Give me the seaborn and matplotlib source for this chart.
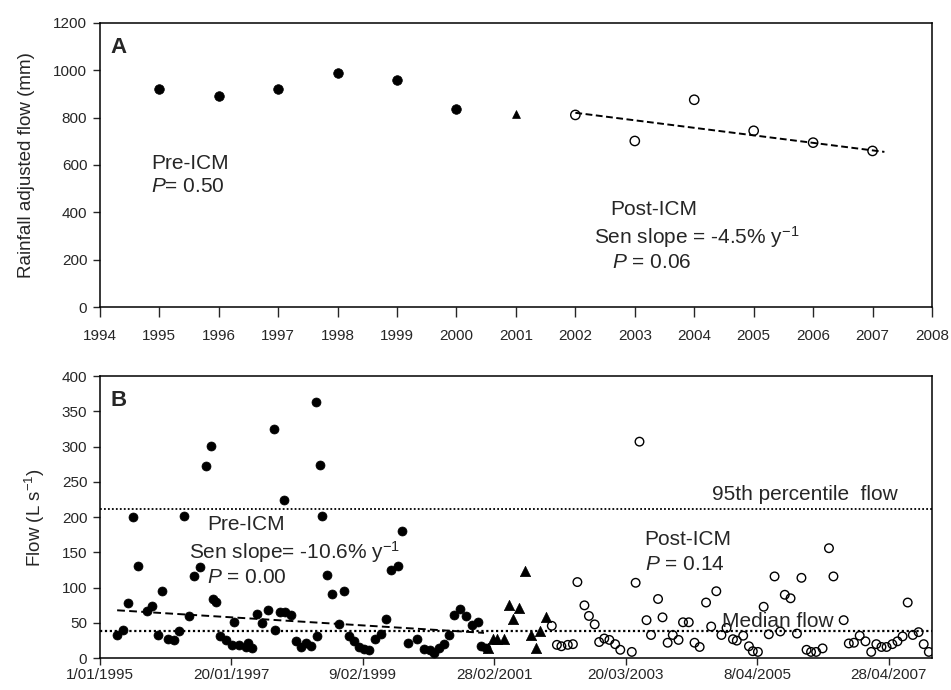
import numpy as np
import pandas as pd
import matplotlib
matplotlib.use("Agg")
import matplotlib.pyplot as plt
import seaborn as sns

# ---------------- Panel A data ----------------
a_pre_years = [1995, 1996, 1997, 1998, 1999, 2000]
a_pre_flow = [921, 892, 921, 990, 958, 838]
a_mid_years = [2001]
a_mid_flow = [814]
a_post_years = [2002, 2003, 2004, 2005, 2006, 2007]
a_post_flow = [811, 701, 875, 744, 694, 659]
a_trend_years = [2002.0, 2007.2]
a_trend_flow = [820, 655]

# ---------------- Panel B data (sampling time in decimal years) ----------------
b_pre_time = [1995.27, 1995.36, 1995.44, 1995.52, 1995.59, 1995.73, 1995.82, 1995.91, 1995.97,
              1996.06, 1996.16, 1996.24, 1996.31, 1996.40, 1996.47, 1996.57, 1996.66, 1996.74,
              1996.77, 1996.81, 1996.88, 1996.97, 1997.07, 1997.10, 1997.18, 1997.28, 1997.31,
              1997.38, 1997.46, 1997.54, 1997.62, 1997.72, 1997.74, 1997.81, 1997.87, 1997.89,
              1997.98, 1998.06, 1998.14, 1998.22, 1998.30, 1998.38, 1998.40, 1998.44, 1998.47,
              1998.55, 1998.62, 1998.74, 1998.82, 1998.89, 1998.97, 1999.05, 1999.13, 1999.21,
              1999.30, 1999.39, 1999.47, 1999.55, 1999.65, 1999.72, 1999.81, 1999.96, 2000.07,
              2000.15, 2000.22, 2000.30, 2000.38, 2000.46, 2000.54, 2000.63, 2000.72, 2000.81,
              2000.90, 2000.95, 2001.03]
b_pre_flow = [33, 40, 79, 200, 131, 67, 74, 33, 95,
              27, 26, 38, 201, 60, 117, 129, 272, 301,
              84, 80, 31, 26, 19, 52, 19, 16, 21,
              14, 63, 50, 68, 325, 40, 66, 224, 65,
              61, 24, 16, 22, 18, 363, 31, 274, 202,
              118, 91, 48, 95, 31, 24, 16, 13, 11,
              27, 34, 55, 125, 131, 180, 21, 27, 13,
              11, 8, 14, 20, 33, 61, 70, 60, 47,
              52, 17, 14]

b_mid_time = [2001.06, 2001.14, 2001.21, 2001.32, 2001.39, 2001.46, 2001.55, 2001.64,
              2001.74, 2001.81, 2001.88, 2001.97]
b_mid_flow = [14, 27, 28, 28, 76, 56, 71, 123, 33, 15, 38, 59]

b_post_time = [2002.06, 2002.14, 2002.21, 2002.31, 2002.39, 2002.46, 2002.57, 2002.64, 2002.73,
               2002.80, 2002.88, 2002.96, 2003.05, 2003.13, 2003.31, 2003.37, 2003.43, 2003.54,
               2003.61, 2003.72, 2003.79, 2003.87, 2003.95, 2004.04, 2004.11, 2004.20, 2004.29,
               2004.37, 2004.47, 2004.55, 2004.63, 2004.71, 2004.79, 2004.89, 2004.95, 2005.05,
               2005.14, 2005.20, 2005.28, 2005.37, 2005.45, 2005.54, 2005.63, 2005.70, 2005.79,
               2005.89, 2005.96, 2006.04, 2006.11, 2006.19, 2006.29, 2006.39, 2006.46, 2006.62,
               2006.70, 2006.78, 2006.87, 2006.96, 2007.05, 2007.13, 2007.21, 2007.29, 2007.38,
               2007.46, 2007.54, 2007.62, 2007.70, 2007.79, 2007.87, 2007.95]
b_post_flow = [46, 19, 17, 19, 20, 108, 75, 60, 48,
               23, 28, 26, 20, 12, 9, 107, 307, 54,
               33, 84, 58, 22, 33, 26, 51, 51, 22,
               16, 79, 45, 95, 33, 43, 27, 25, 32,
               17, 10, 9, 73, 34, 116, 38, 90, 85,
               35, 114, 12, 9, 9, 14, 156, 116, 54,
               21, 22, 32, 24, 9, 20, 16, 16, 20,
               24, 31, 79, 33, 37, 20, 9]

b_trend_time = [1995.27, 2001.0]
b_trend_flow = [68, 36]
b_p95_flow = 212
b_median_flow = 38

b_tick_labels = ["1/01/1995", "20/01/1997", "9/02/1999", "28/02/2001",
                 "20/03/2003", "8/04/2005", "28/04/2007"]


def to_dates(dec_years):
    dec = np.asarray(dec_years, dtype=float)
    return pd.Timestamp("1995-01-01") + pd.to_timedelta((dec - 1995.0) * 365.25, unit="D")


sns.set_style("ticks")
plt.rcParams["font.family"] = ["Liberation Sans", "DejaVu Sans"]
plt.rcParams["mathtext.fontset"] = "custom"
plt.rcParams["mathtext.rm"] = "Liberation Sans"
plt.rcParams["mathtext.it"] = "Liberation Sans:italic"
plt.rcParams["mathtext.bf"] = "Liberation Sans:bold"

fig = plt.figure(figsize=(9.51, 6.9), dpi=100)
axA = fig.add_axes([0.105, 0.555, 0.875, 0.412])
axB = fig.add_axes([0.105, 0.046, 0.875, 0.409])

# ---------------- Panel A ----------------
dfA_pre = pd.DataFrame({"year": a_pre_years, "flow": a_pre_flow})
dfA_mid = pd.DataFrame({"year": a_mid_years, "flow": a_mid_flow})
dfA_post = pd.DataFrame({"year": a_post_years, "flow": a_post_flow})
dfA_tr = pd.DataFrame({"year": a_trend_years, "flow": a_trend_flow})

sns.lineplot(data=dfA_tr, x="year", y="flow", ax=axA, color="black",
             linestyle=(0, (3.5, 1.8)), linewidth=1.4)
sns.scatterplot(data=dfA_pre, x="year", y="flow", ax=axA, color="black",
                marker="o", s=48, edgecolor="black", linewidth=0.5, zorder=3)
sns.scatterplot(data=dfA_mid, x="year", y="flow", ax=axA, color="black",
                marker="^", s=32, edgecolor="black", linewidth=0.5, zorder=3)
sns.scatterplot(data=dfA_post, x="year", y="flow", ax=axA, marker="o", s=45,
                facecolors="none", edgecolor="black", linewidth=1.0, zorder=3)

axA.set_xlim(1994, 2008)
axA.set_ylim(0, 1200)
axA.set_xticks(range(1994, 2009))
axA.set_yticks(range(0, 1201, 200))
axA.set_xlabel("")
axA.set_ylabel("Rainfall adjusted flow (mm)", fontsize=13.5, labelpad=13)
axA.tick_params(axis="x", length=7, width=1, pad=9, labelsize=11)
axA.tick_params(axis="y", length=5, width=1, pad=4, labelsize=11)

axA.text(0.013, 0.895, "A", transform=axA.transAxes, fontsize=16, fontweight="bold")
axA.text(1994.86, 608, "Pre-ICM", fontsize=15, va="center")
axA.text(1994.86, 507, "$P$= 0.50", fontsize=15, va="center")
axA.text(2002.59, 410, "Post-ICM", fontsize=15, va="center")
axA.text(2002.32, 296, "Sen slope = -4.5% y$^{-1}$", fontsize=15, va="center")
axA.text(2002.61, 190, "$P$ = 0.06", fontsize=15, va="center")

# ---------------- Panel B ----------------
dfB_pre = pd.DataFrame({"date": to_dates(b_pre_time), "flow": b_pre_flow})
dfB_mid = pd.DataFrame({"date": to_dates(b_mid_time), "flow": b_mid_flow})
dfB_post = pd.DataFrame({"date": to_dates(b_post_time), "flow": b_post_flow})
dfB_tr = pd.DataFrame({"date": to_dates(b_trend_time), "flow": b_trend_flow})

axB.axhline(b_p95_flow, color="black", linestyle=(0, (1, 1.2)), linewidth=1.3, zorder=1)
axB.axhline(b_median_flow, color="black", linestyle=(0, (1, 1.2)), linewidth=1.6, zorder=1)
sns.lineplot(data=dfB_tr, x="date", y="flow", ax=axB, color="black",
             linestyle=(0, (4, 2.2)), linewidth=1.4, zorder=2)
sns.scatterplot(data=dfB_pre, x="date", y="flow", ax=axB, color="black",
                marker="o", s=42, edgecolor="black", linewidth=0.5, zorder=3)
sns.scatterplot(data=dfB_mid, x="date", y="flow", ax=axB, color="black",
                marker="^", s=55, edgecolor="black", linewidth=0.5, zorder=3)
sns.scatterplot(data=dfB_post, x="date", y="flow", ax=axB, marker="o", s=38,
                facecolors="none", edgecolor="black", linewidth=1.0, zorder=3)

start = pd.Timestamp("1995-01-01")
tick_dates = [start + pd.Timedelta(days=750 * k) for k in range(len(b_tick_labels))]
axB.set_xlim(start, pd.Timestamp("2008-01-01"))
axB.set_xticks(tick_dates)
axB.set_xticklabels(b_tick_labels)
axB.set_ylim(0, 400)
axB.set_yticks(range(0, 401, 50))
axB.set_xlabel("")
axB.set_ylabel("Flow (L s$^{-1}$)", fontsize=13.5, labelpad=11)
axB.tick_params(axis="x", length=5, width=1, pad=2, labelsize=11)
axB.tick_params(axis="y", length=5, width=1, pad=4, labelsize=11)

axB.text(0.013, 0.895, "B", transform=axB.transAxes, fontsize=16, fontweight="bold")
tB = lambda y: pd.Timestamp("1995-01-01") + pd.Timedelta(days=(y - 1995) * 365.25)
axB.text(tB(1996.67), 190, "Pre-ICM", fontsize=15, va="center")
axB.text(tB(1996.40), 150, "Sen slope= -10.6% y$^{-1}$", fontsize=15, va="center")
axB.text(tB(1996.67), 115, "$P$ = 0.00", fontsize=15, va="center")
axB.text(tB(2004.57), 232, "95th percentile  flow", fontsize=15, va="center")
axB.text(tB(2003.51), 168, "Post-ICM", fontsize=15, va="center")
axB.text(tB(2003.51), 133, "$P$ = 0.14", fontsize=15, va="center")
axB.text(tB(2004.72), 52, "Median flow", fontsize=15, va="center")

for ax in (axA, axB):
    for sp in ax.spines.values():
        sp.set_visible(True)
        sp.set_linewidth(1.1)
        sp.set_color("black")

fig.savefig("out.png", dpi=100)
